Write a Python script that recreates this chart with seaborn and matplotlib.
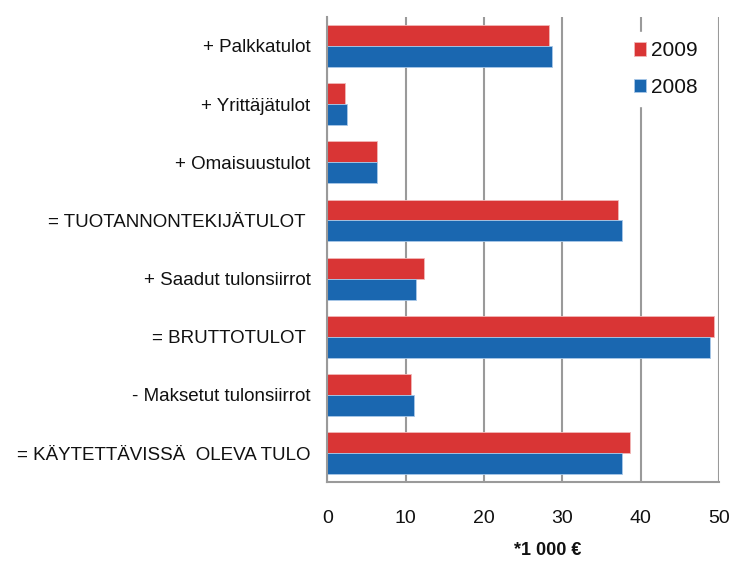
import matplotlib
matplotlib.use("Agg")
import matplotlib.pyplot as plt
import seaborn as sns
import pandas as pd
from matplotlib.ticker import FixedLocator

# Tulot eristä, *1000 €
kategoriat = [
    "+ Palkkatulot",
    "+ Yrittäjätulot",
    "+ Omaisuustulot",
    "= TUOTANNONTEKIJÄTULOT ",
    "+ Saadut tulonsiirrot",
    "= BRUTTOTULOT ",
    "- Maksetut tulonsiirrot",
    "= KÄYTETTÄVISSÄ  OLEVA TULO",
]
arvot_2009 = [28.3, 2.3, 6.4, 37.1, 12.4, 49.4, 10.7, 38.7]
arvot_2008 = [28.7, 2.55, 6.4, 37.6, 11.35, 48.9, 11.1, 37.7]
vuodet = ["2009", "2008"]
varit = {"2009": "#d93535", "2008": "#1a67b0"}

df = pd.DataFrame({
    "Erä": kategoriat * 2,
    "Arvo": arvot_2009 + arvot_2008,
    "Vuosi": ["2009"] * len(kategoriat) + ["2008"] * len(kategoriat),
})

sns.set_style("white")
plt.rcParams["font.family"] = ["Liberation Sans", "DejaVu Sans"]
plt.rcParams["text.color"] = "#111111"

fig = plt.figure(figsize=(7.32, 5.62), dpi=100)
ax = fig.add_axes([0.447, 0.142, 0.535, 0.828])

sns.barplot(
    data=df, y="Erä", x="Arvo", hue="Vuosi", hue_order=vuodet,
    palette=varit, orient="h", width=0.72, ax=ax,
    edgecolor="#f2b8b8", linewidth=0.6, saturation=1,
)
# sinisille palkeille vaaleansininen reuna
for patch in ax.patches:
    if patch.get_facecolor()[2] > 0.5:
        patch.set_edgecolor("#a9c8e8")

ax.set_xlim(0, 50)
ax.set_ylim(7.5, -0.5)
ax.set_xticks([0, 10, 20, 30, 40, 50])
ax.grid(axis="x", color="#9a9a9a", linewidth=1.5, zorder=0)
ax.set_axisbelow(True)
for s in ["top", "right"]:
    ax.spines[s].set_visible(False)
for s in ["left", "bottom"]:
    ax.spines[s].set_color("#9a9a9a")
    ax.spines[s].set_linewidth(1.5)

ax.tick_params(axis="x", length=5, width=1.5, color="#9a9a9a", labelsize=14,
               pad=15, labelcolor="#111111")
ax.tick_params(axis="y", which="major", length=0, labelsize=13.5, pad=12,
               labelcolor="#111111")
ax.yaxis.set_minor_locator(FixedLocator([i - 0.5 for i in range(len(kategoriat) + 1)]))
ax.tick_params(axis="y", which="minor", length=5, width=1.5, color="#9a9a9a")

ax.set_ylabel("")
ax.set_xlabel("*1 000 €", fontsize=13, fontweight="bold", color="#111111")
ax.xaxis.set_label_coords(0.564, -0.128)

leg = ax.legend(
    loc="upper left", bbox_to_anchor=(0.732, 0.99), frameon=True,
    fontsize=15, handlelength=0.6, handleheight=0.6, handletextpad=0.25,
    labelspacing=0.85, borderpad=0.45, fancybox=False,
)
leg.get_frame().set_facecolor("white")
leg.get_frame().set_edgecolor("white")
leg.get_frame().set_alpha(1)

fig.savefig("out.png", dpi=100)
